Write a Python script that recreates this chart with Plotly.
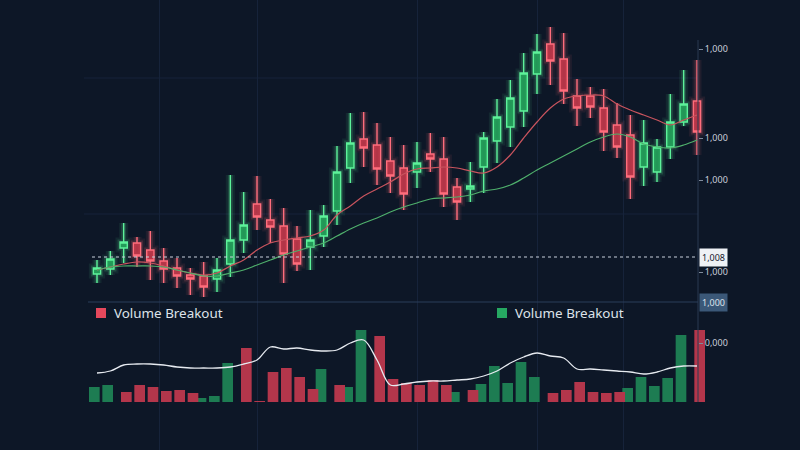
import plotly.graph_objects as go

# ---------------- data ----------------
idx = list(range(46))
opens = [1004.6, 1005.6, 1009.8, 1010.8, 1009.4, 1007.2, 1005.8, 1004.4, 1004.2, 1003.6,
         1006.6, 1011.4, 1018.6, 1015.4, 1014.2, 1011.6, 1010.0, 1012.2, 1017.2, 1025.8,
         1031.6, 1030.4, 1027.2, 1025.8, 1025.0, 1028.6, 1027.6, 1022.0, 1021.6, 1026.0,
         1031.2, 1034.0, 1037.2, 1044.6, 1050.6, 1047.6, 1040.2, 1040.2, 1037.8, 1034.4,
         1032.4, 1026.0, 1025.0, 1030.0, 1035.0, 1039.2]
highs = [1007.4, 1009.2, 1014.8, 1012.0, 1013.2, 1009.8, 1007.8, 1005.8, 1007.0, 1007.8,
         1024.4, 1021.0, 1024.2, 1019.6, 1017.8, 1014.2, 1017.4, 1018.4, 1030.2, 1036.8,
         1037.0, 1034.8, 1032.0, 1030.4, 1031.0, 1032.8, 1032.0, 1023.8, 1027.0, 1033.0,
         1039.6, 1043.4, 1048.8, 1052.6, 1054.0, 1052.8, 1043.6, 1042.0, 1041.6, 1038.8,
         1036.4, 1035.4, 1031.6, 1040.6, 1045.4, 1047.4]
lows = [1002.8, 1004.4, 1006.8, 1006.0, 1003.4, 1002.8, 1001.8, 1000.4, 1000.0, 1001.0,
        1004.0, 1008.8, 1013.4, 1010.8, 1002.8, 1005.2, 1005.4, 1010.0, 1014.4, 1022.8,
        1026.0, 1022.4, 1020.8, 1017.4, 1021.8, 1025.0, 1018.0, 1015.4, 1019.0, 1020.8,
        1026.8, 1030.0, 1034.0, 1040.6, 1042.4, 1038.6, 1034.2, 1035.8, 1029.2, 1027.8,
        1019.6, 1022.2, 1023.0, 1027.6, 1034.2, 1028.4]
closes = [1005.8, 1007.6, 1011.0, 1008.2, 1007.2, 1005.6, 1004.2, 1003.6, 1002.0, 1005.4,
          1011.4, 1014.4, 1016.0, 1014.0, 1008.6, 1006.6, 1011.4, 1016.2, 1025.0, 1030.8,
          1029.8, 1025.6, 1024.2, 1020.6, 1026.8, 1027.6, 1020.6, 1019.0, 1022.2, 1031.8,
          1036.0, 1039.8, 1044.8, 1049.0, 1047.2, 1041.2, 1037.8, 1038.0, 1033.0, 1030.0,
          1024.0, 1030.8, 1030.0, 1035.0, 1038.6, 1033.0]

ma_fast = [1005.4, 1006.0, 1006.6, 1007.0, 1006.8, 1006.2, 1005.4, 1004.8, 1004.4, 1004.8,
           1006.2, 1007.4, 1009.4, 1010.8, 1011.4, 1011.8, 1012.2, 1013.4, 1016.4, 1018.2,
           1020.2, 1021.6, 1023.0, 1024.6, 1025.6, 1025.8, 1026.0, 1025.8, 1025.2, 1024.8,
           1026.0, 1028.4, 1031.8, 1035.0, 1037.8, 1039.6, 1040.2, 1040.4, 1040.2, 1038.6,
           1037.4, 1036.4, 1035.4, 1034.4, 1035.4, 1036.4]
ma_slow = [1005.4, 1006.0, 1006.2, 1006.2, 1006.2, 1006.0, 1005.4, 1004.8, 1004.2, 1004.2,
           1004.8, 1005.4, 1006.4, 1007.4, 1008.4, 1009.2, 1010.0, 1010.8, 1012.2, 1013.6,
           1014.8, 1015.8, 1017.0, 1018.0, 1018.8, 1019.6, 1019.8, 1020.0, 1020.4, 1021.2,
           1021.6, 1022.4, 1023.8, 1025.4, 1026.8, 1028.2, 1029.6, 1031.0, 1032.0, 1032.6,
           1032.0, 1030.6, 1030.0, 1029.8, 1030.4, 1031.4]

volume = [150, 170, 100, 170, 150, 110, 120, 90, 40, 60,
          390, 540, 10, 300, 340, 250, 130, 330, 170, 150,
          720, 660, 230, 190, 170, 220, 170, 100, 120, 180,
          360, 190, 400, 250, 90, 120, 200, 100, 90, 100,
          140, 250, 160, 240, 670, 720]
vol_side = ["G", "G", "R", "R", "R", "R", "R", "R", "G", "G",
            "G", "R", "R", "R", "R", "R", "R", "G", "R", "G",
            "G", "R", "R", "R", "R", "R", "R", "G", "R", "G",
            "G", "G", "G", "G", "R", "R", "R", "R", "R", "R",
            "G", "G", "G", "G", "G", "R"]
vol_ma = [290, 310, 370, 380, 380, 370, 350, 340, 340, 340,
          350, 380, 420, 550, 530, 540, 520, 510, 520, 590,
          620, 420, 170, 180, 200, 210, 210, 220, 230, 260,
          310, 390, 450, 490, 460, 440, 330, 330, 320, 310,
          300, 280, 300, 340, 360, 360]

price_ticks = [1049.6, 1031.8, 1023.4, 1005.0]
price_tick_text = ["1,000", "1,000", "1,000", "1,000"]
vol_ticks = [590]
vol_tick_text = ["0,000"]
last_price = 1008.0
last_price_text = "1,008"
panel_price = 999.0
panel_price_text = "1,000"
legend_name = "Volume Breakout"

# ---------------- style ----------------
BG = "#0d1727"
G_LINE = "#5df29a"
G_FILL = "rgba(38,170,94,0.85)"
R_LINE = "#ff6d7c"
R_FILL = "rgba(205,58,76,0.85)"
VOL_G = "#1d7c52"
VOL_R = "#b3364b"
GRID = "#16233a"
AXIS_X = 0.8725

fig = go.Figure()

# glow layers
for w, op in [(9, 0.08), (5, 0.16)]:
    fig.add_trace(go.Candlestick(
        x=idx, open=opens, high=highs, low=lows, close=closes,
        increasing=dict(line=dict(color=G_LINE, width=w), fillcolor="rgba(0,0,0,0)"),
        decreasing=dict(line=dict(color=R_LINE, width=w), fillcolor="rgba(0,0,0,0)"),
        opacity=op, whiskerwidth=0, showlegend=False, hoverinfo="skip"))

fig.add_trace(go.Candlestick(
    x=idx, open=opens, high=highs, low=lows, close=closes,
    increasing=dict(line=dict(color=G_LINE, width=1.4), fillcolor=G_FILL),
    decreasing=dict(line=dict(color=R_LINE, width=1.4), fillcolor=R_FILL),
    whiskerwidth=0, showlegend=False))

fig.add_trace(go.Scatter(x=idx, y=ma_fast, mode="lines", line=dict(color="#c9545e", width=1.2),
                         line_shape="spline", showlegend=False))
fig.add_trace(go.Scatter(x=idx, y=ma_slow, mode="lines", line=dict(color="#4fb06c", width=1.2),
                         line_shape="spline", showlegend=False))

vol_r = [v if s == "R" else None for v, s in zip(volume, vol_side)]
vol_g = [v if s == "G" else None for v, s in zip(volume, vol_side)]
fig.add_trace(go.Bar(x=idx, y=vol_g, marker=dict(color=VOL_G, line=dict(width=0)), width=0.8,
                     yaxis="y2", showlegend=False))
fig.add_trace(go.Bar(x=idx, y=vol_r, marker=dict(color=VOL_R, line=dict(width=0)), width=0.8,
                     yaxis="y2", showlegend=False))
fig.add_trace(go.Scatter(x=idx, y=vol_ma, mode="lines", line=dict(color="#e6eaf0", width=1.3),
                         line_shape="spline", yaxis="y2", showlegend=False))

shapes = []
# horizontal faint grid
for yp in [78, 214]:
    shapes.append(dict(type="line", xref="paper", yref="paper", x0=0.105, x1=AXIS_X,
                       y0=1 - yp / 450, y1=1 - yp / 450, line=dict(color=GRID, width=1), layer="below"))
# axis line
shapes.append(dict(type="line", xref="paper", yref="paper", x0=AXIS_X, x1=AXIS_X,
                   y0=1 - 402 / 450, y1=1 - 40 / 450, line=dict(color="#2a3a52", width=1)))
# last price dotted line
shapes.append(dict(type="line", xref="paper", yref="y", x0=0.115, x1=AXIS_X,
                   y0=last_price, y1=last_price, line=dict(color="#c8d0dc", width=1, dash="dot")))
# panel separator
shapes.append(dict(type="line", xref="paper", yref="y", x0=0.11, x1=AXIS_X,
                   y0=panel_price, y1=panel_price, line=dict(color="#2b3e5a", width=1)))
# legend squares
shapes.append(dict(type="rect", xref="paper", yref="paper", x0=96 / 800, x1=106 / 800,
                   y0=1 - 318 / 450, y1=1 - 308 / 450, fillcolor="#e5485c", line=dict(width=0)))
shapes.append(dict(type="rect", xref="paper", yref="paper", x0=497 / 800, x1=507 / 800,
                   y0=1 - 318 / 450, y1=1 - 308 / 450, fillcolor="#26a862", line=dict(width=0)))

annotations = [
    dict(xref="paper", yref="paper", x=112 / 800, y=1 - 313 / 450, text=legend_name, showarrow=False,
         xanchor="left", yanchor="middle", font=dict(size=13.4, color="#dde3ea", family="Noto Sans")),
    dict(xref="paper", yref="paper", x=513 / 800, y=1 - 313 / 450, text=legend_name, showarrow=False,
         xanchor="left", yanchor="middle", font=dict(size=13.4, color="#dde3ea", family="Noto Sans")),
    dict(xref="paper", yref="y", x=699 / 800, y=last_price, text=last_price_text, showarrow=False,
         xanchor="left", yanchor="middle", bgcolor="#eef1f5", borderpad=2,
         font=dict(size=9, color="#17202f", family="Noto Sans")),
    dict(xref="paper", yref="y", x=699 / 800, y=panel_price, text=panel_price_text, showarrow=False,
         xanchor="left", yanchor="middle", bgcolor="#3b5878", borderpad=2,
         font=dict(size=9, color="#dbe3ec", family="Noto Sans")),
]

fig.update_layout(
    width=800, height=450, margin=dict(l=0, r=0, t=0, b=0),
    paper_bgcolor=BG, plot_bgcolor=BG, boxgap=0.22, bargap=0.2,
    showlegend=False, shapes=shapes, annotations=annotations,
    xaxis=dict(range=[-7.275, 52.725], showticklabels=False, ticks="", zeroline=False,
               showgrid=True, gridcolor=GRID, tickvals=[4.7, 12, 24, 33, 39.5],
               rangeslider=dict(visible=False), fixedrange=True),
    yaxis=dict(range=[969.4, 1059.4], anchor="free", position=AXIS_X, side="right",
               tickvals=price_ticks, ticktext=price_tick_text, ticks="outside", ticklen=4,
               tickcolor="#7f8b9c", tickfont=dict(size=9, color="#c9d0da", family="Noto Sans"),
               showgrid=False, zeroline=False, showline=False),
    yaxis2=dict(range=[-480, 4020], overlaying="y", anchor="free", position=AXIS_X, side="right",
                tickvals=vol_ticks, ticktext=vol_tick_text, ticks="outside", ticklen=4,
                tickcolor="#7f8b9c", tickfont=dict(size=9, color="#c9d0da", family="Noto Sans"),
                showgrid=False, zeroline=False, showline=False),
)

fig.write_html("out.html")
